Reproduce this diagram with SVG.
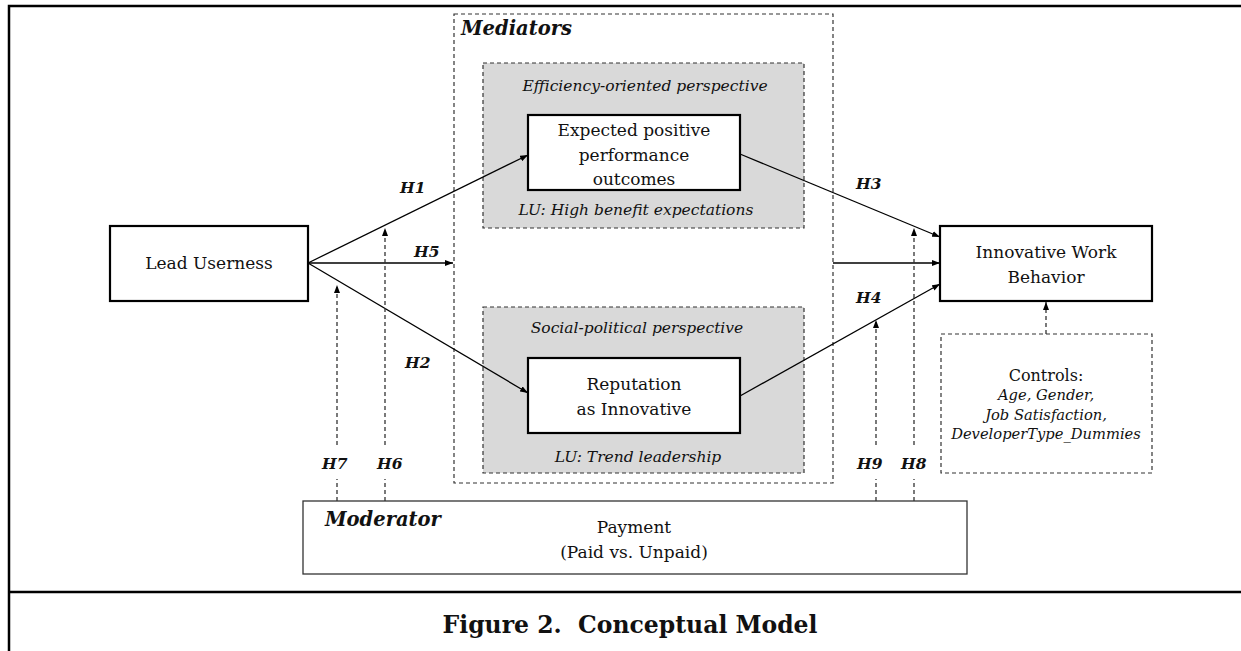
<svg xmlns="http://www.w3.org/2000/svg" width="1241" height="651" viewBox="0 0 1241 651">
<style>
.frame{stroke:#000;stroke-width:2.5;fill:none}
.box{fill:#fff;stroke:#000;stroke-width:2.2}
.gray{fill:#d9d9d9;stroke:#333;stroke-width:1.2;stroke-dasharray:4 3}
.dbox{fill:none;stroke:#333;stroke-width:1.2;stroke-dasharray:4 3}
.mod{fill:#fff;stroke:#333;stroke-width:1.3}
.ln{stroke:#000;stroke-width:1.3;fill:none}
.dl{stroke:#333;stroke-width:1.3;fill:none;stroke-dasharray:4 3}
text{font-family:"DejaVu Serif","Liberation Serif",serif;fill:#111}
.t{font-size:17px;text-anchor:middle}
.i{font-size:15.5px;font-style:italic;text-anchor:middle}
.ci{font-size:14.7px;font-style:italic;text-anchor:middle}
.h{font-size:15.5px;font-style:italic;font-weight:bold}
.bi{font-size:19.5px;font-style:italic;font-weight:bold}
.cap{font-size:23.5px;font-weight:bold;text-anchor:middle}
</style>
<defs>
<marker id="ah" viewBox="0 0 8 6" refX="8" refY="3" markerWidth="8" markerHeight="6" markerUnits="userSpaceOnUse" orient="auto">
<path d="M0,0 L8,3 L0,6 z" fill="#000"/>
</marker>
</defs>
<rect width="1241" height="651" fill="#fff"/>
<g id="frame">
<path class="frame" d="M9,651 L9,6 L1241,6"/>
<path class="frame" d="M9,592 L1241,592"/>
</g>
<g id="mediators">
<rect class="dbox" x="454" y="14" width="379" height="469"/>
<text class="bi" x="461" y="35">Mediators</text>
</g>
<g id="efficiency">
<rect class="gray" x="483" y="63" width="321" height="165"/>
<text class="i" x="645" y="91">Efficiency-oriented perspective</text>
<text class="i" x="636" y="215">LU: High benefit expectations</text>
</g>
<g id="expected">
<rect class="box" x="528" y="115" width="212" height="75"/>
<text class="t" x="634" y="136">Expected positive</text>
<text class="t" x="634" y="161">performance</text>
<text class="t" x="634" y="185">outcomes</text>
</g>
<g id="social">
<rect class="gray" x="483" y="307" width="321" height="166"/>
<text class="i" x="637" y="333">Social-political perspective</text>
<text class="i" x="638" y="462">LU: Trend leadership</text>
</g>
<g id="reputation">
<rect class="box" x="528" y="358" width="212" height="75"/>
<text class="t" x="634" y="390">Reputation</text>
<text class="t" x="634" y="415">as Innovative</text>
</g>
<g id="lead">
<rect class="box" x="110" y="226" width="198" height="75"/>
<text class="t" x="209" y="269">Lead Userness</text>
</g>
<g id="iwb">
<rect class="box" x="940" y="226" width="212" height="75"/>
<text class="t" x="1046" y="258">Innovative Work</text>
<text class="t" x="1046" y="283">Behavior</text>
</g>
<g id="controls">
<rect class="dbox" x="941" y="334" width="211" height="139"/>
<text class="t" x="1046" y="381" style="font-size:16px">Controls:</text>
<text class="ci" x="1046" y="400">Age, Gender,</text>
<text class="ci" x="1046" y="420">Job Satisfaction,</text>
<text class="ci" x="1046" y="439">DeveloperType_Dummies</text>
</g>
<g id="moderator">
<rect class="mod" x="303" y="501" width="664" height="73"/>
<text class="bi" x="325" y="526">Moderator</text>
<text class="t" x="634" y="533">Payment</text>
<text class="t" x="634" y="558">(Paid vs. Unpaid)</text>
</g>
<g id="connectors">
<line class="ln" x1="308" y1="263" x2="528" y2="155" marker-end="url(#ah)"/>
<line class="ln" x1="308" y1="263" x2="528" y2="393" marker-end="url(#ah)"/>
<line class="ln" x1="308" y1="263" x2="453" y2="263" marker-end="url(#ah)"/>
<line class="ln" x1="740" y1="154" x2="940" y2="237" marker-end="url(#ah)"/>
<line class="ln" x1="833" y1="263" x2="940" y2="263" marker-end="url(#ah)"/>
<line class="ln" x1="740" y1="396" x2="940" y2="284" marker-end="url(#ah)"/>
<line class="dl" x1="1046" y1="334" x2="1046" y2="302" marker-end="url(#ah)"/>
<line class="dl" x1="337" y1="501" x2="337" y2="479"/>
<line class="dl" x1="337" y1="445" x2="337" y2="285" marker-end="url(#ah)"/>
<line class="dl" x1="385" y1="501" x2="385" y2="479"/>
<line class="dl" x1="385" y1="445" x2="385" y2="228" marker-end="url(#ah)"/>
<line class="dl" x1="876" y1="501" x2="876" y2="479"/>
<line class="dl" x1="876" y1="445" x2="876" y2="320" marker-end="url(#ah)"/>
<line class="dl" x1="914" y1="501" x2="914" y2="479"/>
<line class="dl" x1="914" y1="445" x2="914" y2="228" marker-end="url(#ah)"/>
</g>
<g id="labels">
<text class="h" x="400" y="193">H1</text>
<text class="h" x="414" y="257">H5</text>
<text class="h" x="405" y="368">H2</text>
<text class="h" x="856" y="189">H3</text>
<text class="h" x="856" y="303">H4</text>
<text class="h" x="322" y="469">H7</text>
<text class="h" x="377" y="469">H6</text>
<text class="h" x="857" y="469">H9</text>
<text class="h" x="901" y="469">H8</text>
</g>
<g id="caption">
<text class="cap" x="630" y="633" xml:space="preserve">Figure 2.  Conceptual Model</text>
</g>
</svg>
